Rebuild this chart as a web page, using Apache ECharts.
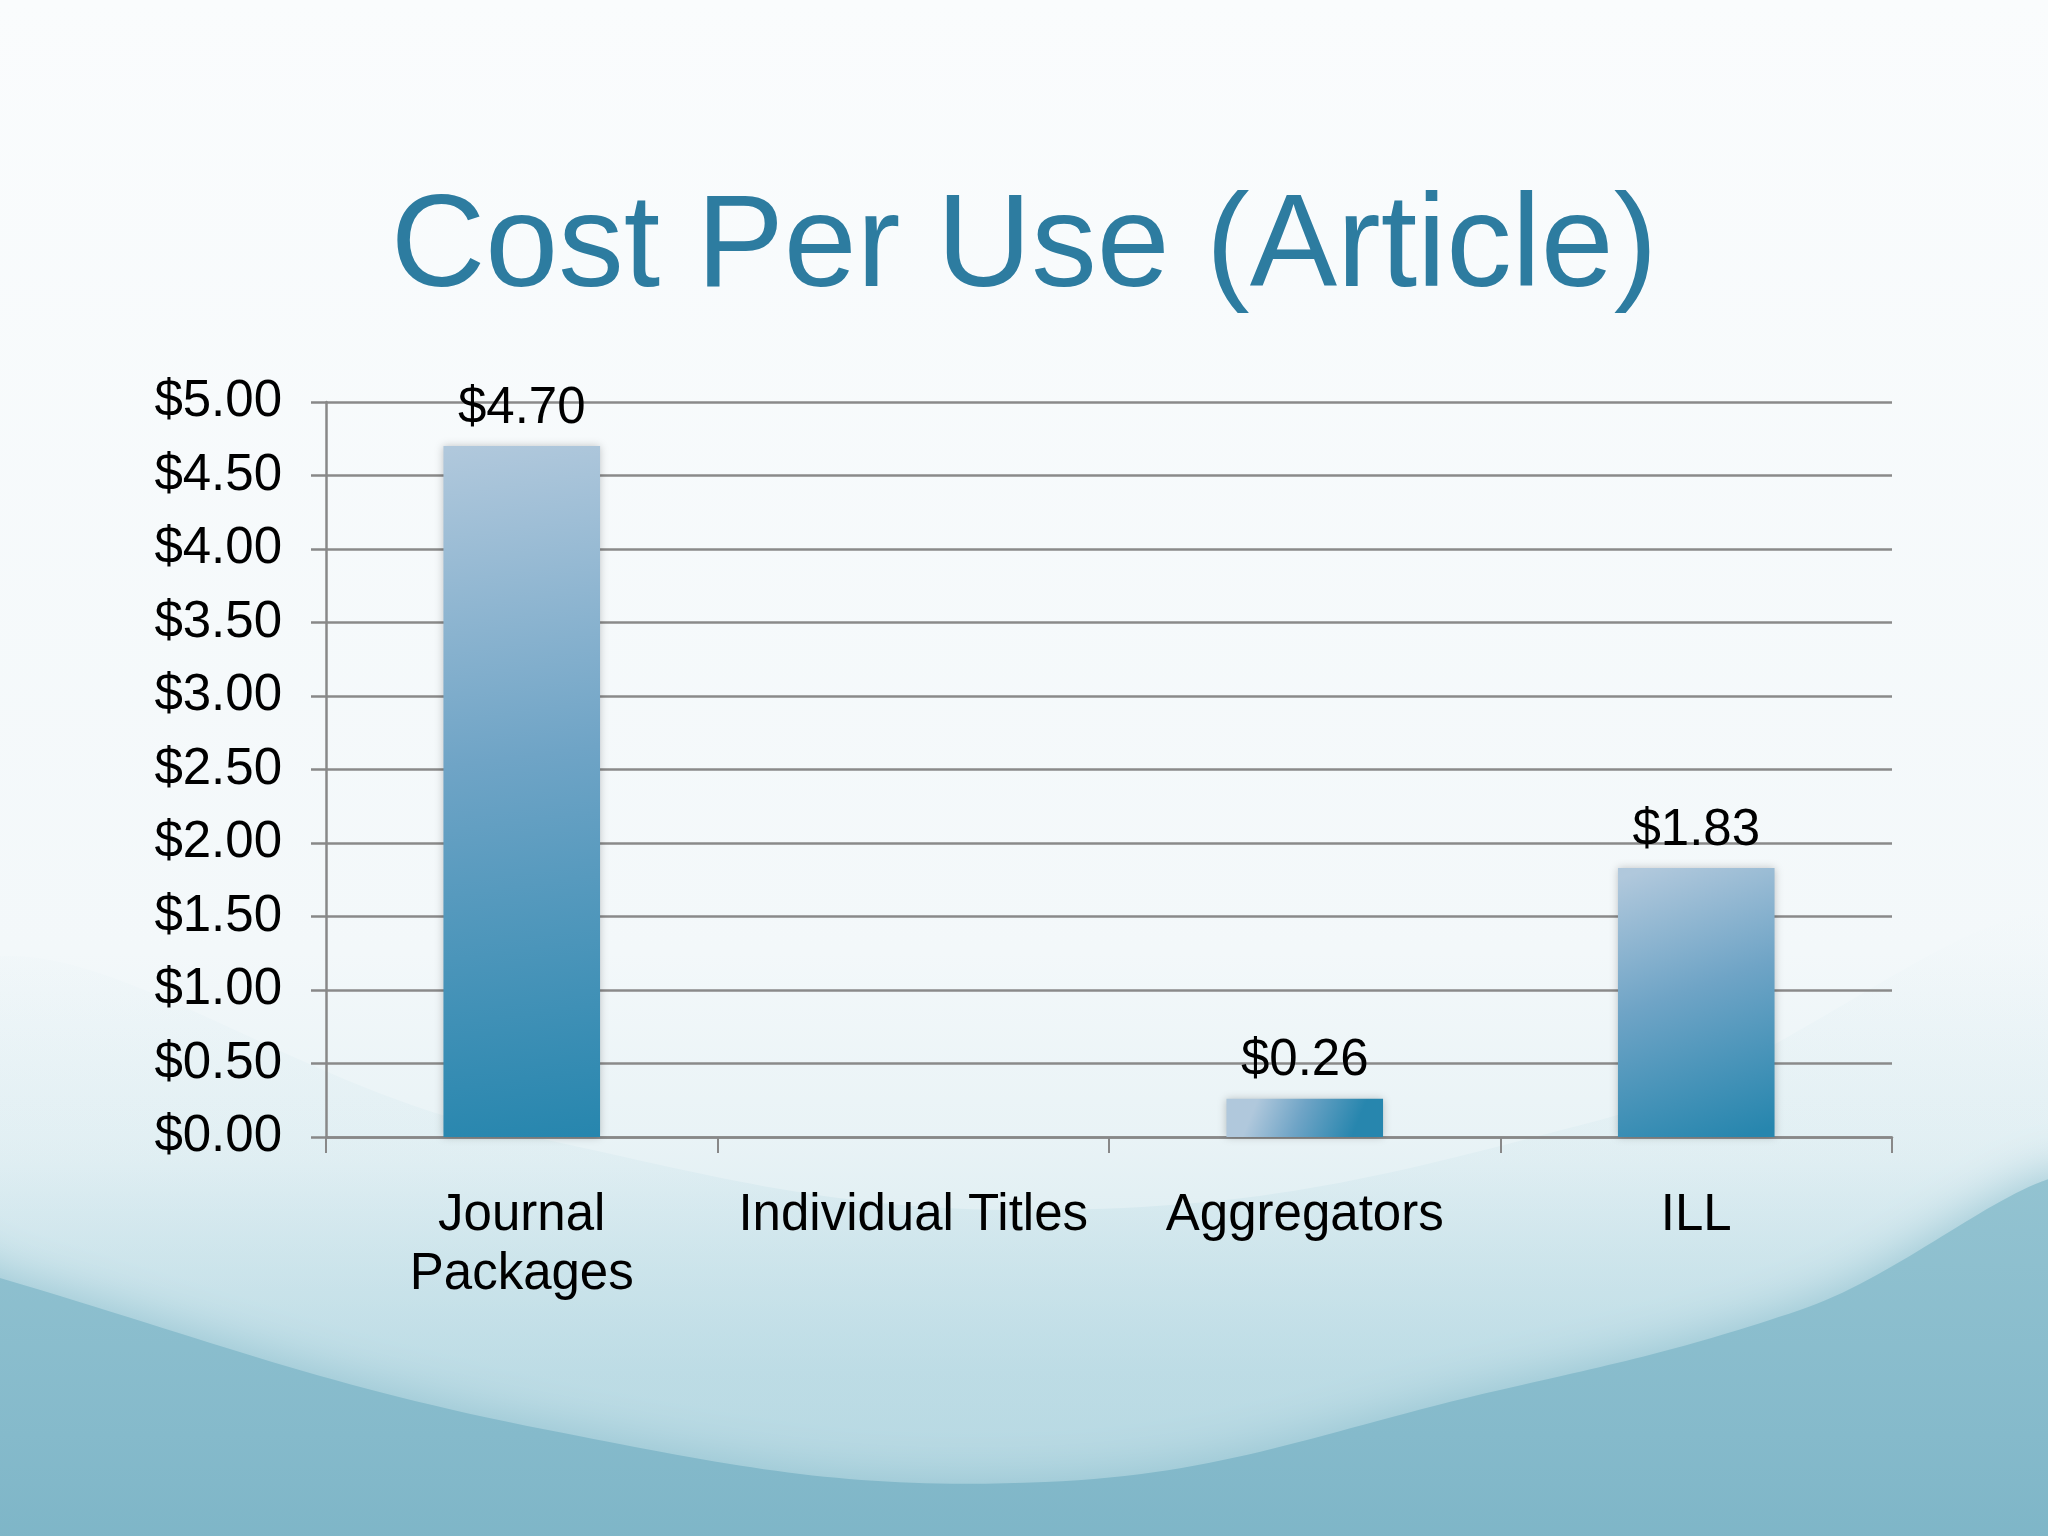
<!DOCTYPE html>
<html>
<head>
<meta charset="utf-8">
<script src="https://cdn.jsdelivr.net/npm/echarts@6/dist/echarts.min.js"></script>
<style>
html,body{margin:0;padding:0;background:#f9fbfd;}
#c{width:2048px;height:1536px;}
</style>
</head>
<body>
<div id="c"></div>
<script>
const titleText = 'Cost Per Use (Article)';
const categories = ['Journal\nPackages', 'Individual Titles', 'Aggregators', 'ILL'];
const costPerUse = [4.70, '-', 0.26, 1.83];
const yMin = 0, yMax = 5, yStep = 0.5;

const chart = echarts.init(document.getElementById('c'), null, {renderer: 'canvas'});
const FONT = '"Liberation Sans", Arial, sans-serif';
const money = v => '$' + Number(v).toFixed(2);

const option = {
  backgroundColor: 'transparent',
  graphic: [
    { type: 'rect', z: -10, silent: true,
      shape: {x: 0, y: 0, width: 2048, height: 1536},
      style: { fill: new echarts.graphic.LinearGradient(0, 0, 0, 1, [
        {offset: 0, color: '#fafcfd'},
        {offset: 0.62, color: '#f3f8fa'},
        {offset: 0.74, color: '#e9f3f6'},
        {offset: 0.88, color: '#d3e8ee'},
        {offset: 1, color: '#c2dee6'}
      ])}
    },
    { type: 'polygon', z: -9, silent: true,
      shape: {smooth: 0.4, points: [[-60,980],[500,1130],[1045,1210],[1600,1120],[2110,930],[2110,1600],[-60,1600]]},
      style: { fill: new echarts.graphic.LinearGradient(0, 0, 0, 1, [
        {offset: 0, color: 'rgba(180,216,226,0)'},
        {offset: 0.3, color: 'rgba(180,216,226,0.15)'},
        {offset: 0.55, color: 'rgba(176,213,224,0.6)'},
        {offset: 1, color: 'rgba(168,208,220,0.85)'}
      ]) }
    },
    { type: 'polygon', z: -8, silent: true,
      shape: {smooth: 0.4, points: [[-60,1250],[0,1278],[548,1430],[1045,1482],[1500,1390],[1800,1310],[2110,1185],[2110,1600],[-60,1600]]},
      style: { fill: new echarts.graphic.LinearGradient(0, 0, 0, 1, [
        {offset: 0, color: '#93c3d1'},
        {offset: 0.5, color: '#85bacb'},
        {offset: 1, color: '#74afc2'}
      ]), shadowBlur: 50, shadowColor: 'rgba(140,190,205,0.85)' }
    }
  ],
  title: {
    text: titleText,
    left: 'center',
    top: 179,
    textStyle: { fontFamily: FONT, fontSize: 131, fontWeight: 'normal', color: '#2d7ca0' }
  },
  grid: { left: 326, right: 156, top: 402, bottom: 399, containLabel: false },
  xAxis: {
    type: 'category',
    data: categories,
    axisLine: { show: true, lineStyle: { color: '#888888', width: 2.5 } },
    axisTick: { show: true, alignWithLabel: false, interval: 0, length: 16, lineStyle: { color: '#888888', width: 2 } },
    axisLabel: { interval: 0, margin: 49, fontFamily: FONT, fontSize: 51, lineHeight: 59, color: '#000000' },
    splitLine: { show: false }
  },
  yAxis: {
    type: 'value',
    min: yMin, max: yMax, interval: yStep,
    axisLine: { show: true, lineStyle: { color: '#888888', width: 2.5 } },
    axisTick: { show: true, length: 15, lineStyle: { color: '#888888', width: 2.5 } },
    axisLabel: { margin: 44, fontFamily: FONT, fontSize: 51, color: '#000000', formatter: money },
    splitLine: { show: true, lineStyle: { color: '#8a8a8a', width: 2.5 } }
  },
  series: [{
    type: 'bar',
    data: costPerUse,
    barWidth: '40%',
    itemStyle: {
      color: new echarts.graphic.LinearGradient(0.2, 0, 0.8, 1, [
        {offset: 0, color: '#b0c8dc'},
        {offset: 0.45, color: '#6fa4c6'},
        {offset: 1, color: '#2786ae'}
      ]),
      shadowBlur: 8, shadowColor: 'rgba(0,0,0,0.22)', shadowOffsetX: 0, shadowOffsetY: 0
    },
    label: {
      show: true, position: 'top', distance: 12,
      fontFamily: FONT, fontSize: 51, color: '#000000',
      formatter: p => money(p.value)
    },
    animation: false
  }],
  animation: false
};
chart.setOption(option);
</script>
</body>
</html>
